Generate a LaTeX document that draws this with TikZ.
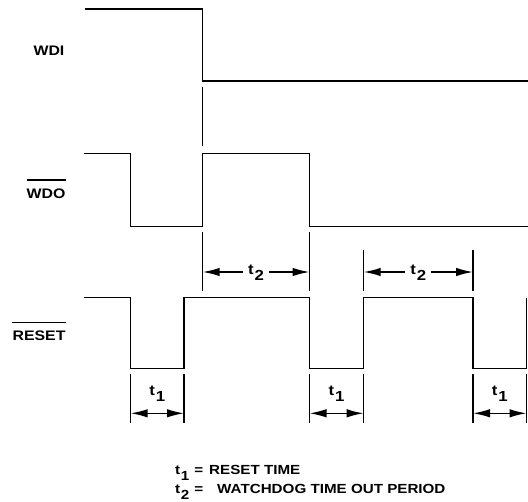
\documentclass[tikz,border=0pt]{standalone}
\usepackage{fontspec}
\setmainfont{Liberation Sans}[FakeStretch=1.15]
\usetikzlibrary{arrows.meta}
\newcommand\tsb[1]{t\kern0.8bp\raisebox{-6.6bp}{#1}}
\begin{document}
\begin{tikzpicture}[x=1bp,y=-1bp,
  wave/.style={line width=1.5bp, line join=miter},
  tickln/.style={line width=1.5bp},
  dimarr/.style={line width=1.5bp, -{Latex[length=17bp,width=8.5bp]}},
  dimboth/.style={line width=1.5bp, {Latex[length=17bp,width=8.5bp]}-{Latex[length=17bp,width=8.5bp]}},
  lab/.style={font=\fontsize{13.8bp}{16bp}\selectfont\bfseries, inner sep=0pt},
  leg/.style={font=\fontsize{13.2bp}{16bp}\selectfont\bfseries, inner sep=0pt},
  tlab/.style={font=\fontsize{14.6bp}{16bp}\selectfont\bfseries, inner xsep=5bp, inner ysep=0pt, anchor=base}]
\useasboundingbox (0,0) rectangle (528,502);
% waveforms
\draw[wave] (85.2,9.1) -- (202.7,9.1) -- (202.7,80.8) -- (528,80.8);
\draw[wave] (83.8,153.5) -| (130.6,226.3) -| (202.7,153.5) -| (309.5,226.3) -- (528,226.3);
\draw[wave] (83.8,297.5) -| (130.7,368.5) -| (184,297.5) -| (309.5,368.5) -| (363.6,297.5) -| (473,368.5) -| (526.5,297.5);
% signal labels
\node[lab,anchor=east] (wdi) at (64.6,50.5) {WDI};
\node[lab,anchor=east] (wdo) at (65.7,193.6) {WDO};
\draw[tickln] ([yshift=8.5bp]wdo.north west) -- ([yshift=8.5bp]wdo.north east);
\node[lab,anchor=east] (rst) at (65.7,336) {RESET};
\draw[tickln] ([yshift=8.5bp]rst.north west) -- ([yshift=8.5bp]rst.north east);
% ticks
\draw[tickln] (202.7,86.9) -- (202.7,146.5);
\draw[tickln] (202.7,232.3) -- (202.7,290.5);
\draw[tickln] (309.5,232.3) -- (309.5,290.5);
\draw[tickln] (363.6,250.1) -- (363.6,290.5);
\draw[tickln] (473,250.1) -- (473,290.5);
\foreach \x in {130.7,184,309.5,363.6,473,526.5}
  \draw[tickln] (\x,374) -- (\x,423);
% t2 dimensions
\coordinate (a1) at (202.7,272);
\coordinate (a2) at (309.5,272);
\coordinate (b1) at (363.6,272);
\coordinate (b2) at (473,272);
\node[tlab] (t2a) at (256.1,274) {\tsb{2}};
\node[tlab] (t2b) at (418.3,274) {\tsb{2}};
\draw[dimarr] (t2a.west |- a1) -- (a1);
\draw[dimarr] (t2a.east |- a2) -- (a2);
\draw[dimarr] (t2b.west |- b1) -- (b1);
\draw[dimarr] (t2b.east |- b2) -- (b2);
% t1 dimensions
\coordinate (c1) at (130.7,413.3);
\coordinate (c2) at (184,413.3);
\coordinate (d1) at (309.5,413.3);
\coordinate (d2) at (363.6,413.3);
\coordinate (e1) at (473,413.3);
\coordinate (e2) at (526.5,413.3);
\node[tlab] (t1a) at (157.35,395) {\tsb{1}};
\node[tlab] (t1b) at (336.55,395) {\tsb{1}};
\node[tlab] (t1c) at (499.75,395) {\tsb{1}};
\draw[dimboth] (c1) -- (c2);
\draw[dimboth] (d1) -- (d2);
\draw[dimboth] (e1) -- (e2);
% legend
\node[leg,anchor=base west] (leg1) at (175,474) {\makebox[34bp][l]{t\kern0.6bp\raisebox{-6bp}{1}\hspace{5bp}=}RESET TIME};
\node[leg,anchor=base west] (leg2) at (175,493.4) {\makebox[42bp][l]{t\kern0.6bp\raisebox{-6bp}{2}\hspace{5bp}=}WATCHDOG TIME OUT PERIOD};
\end{tikzpicture}
\end{document}
